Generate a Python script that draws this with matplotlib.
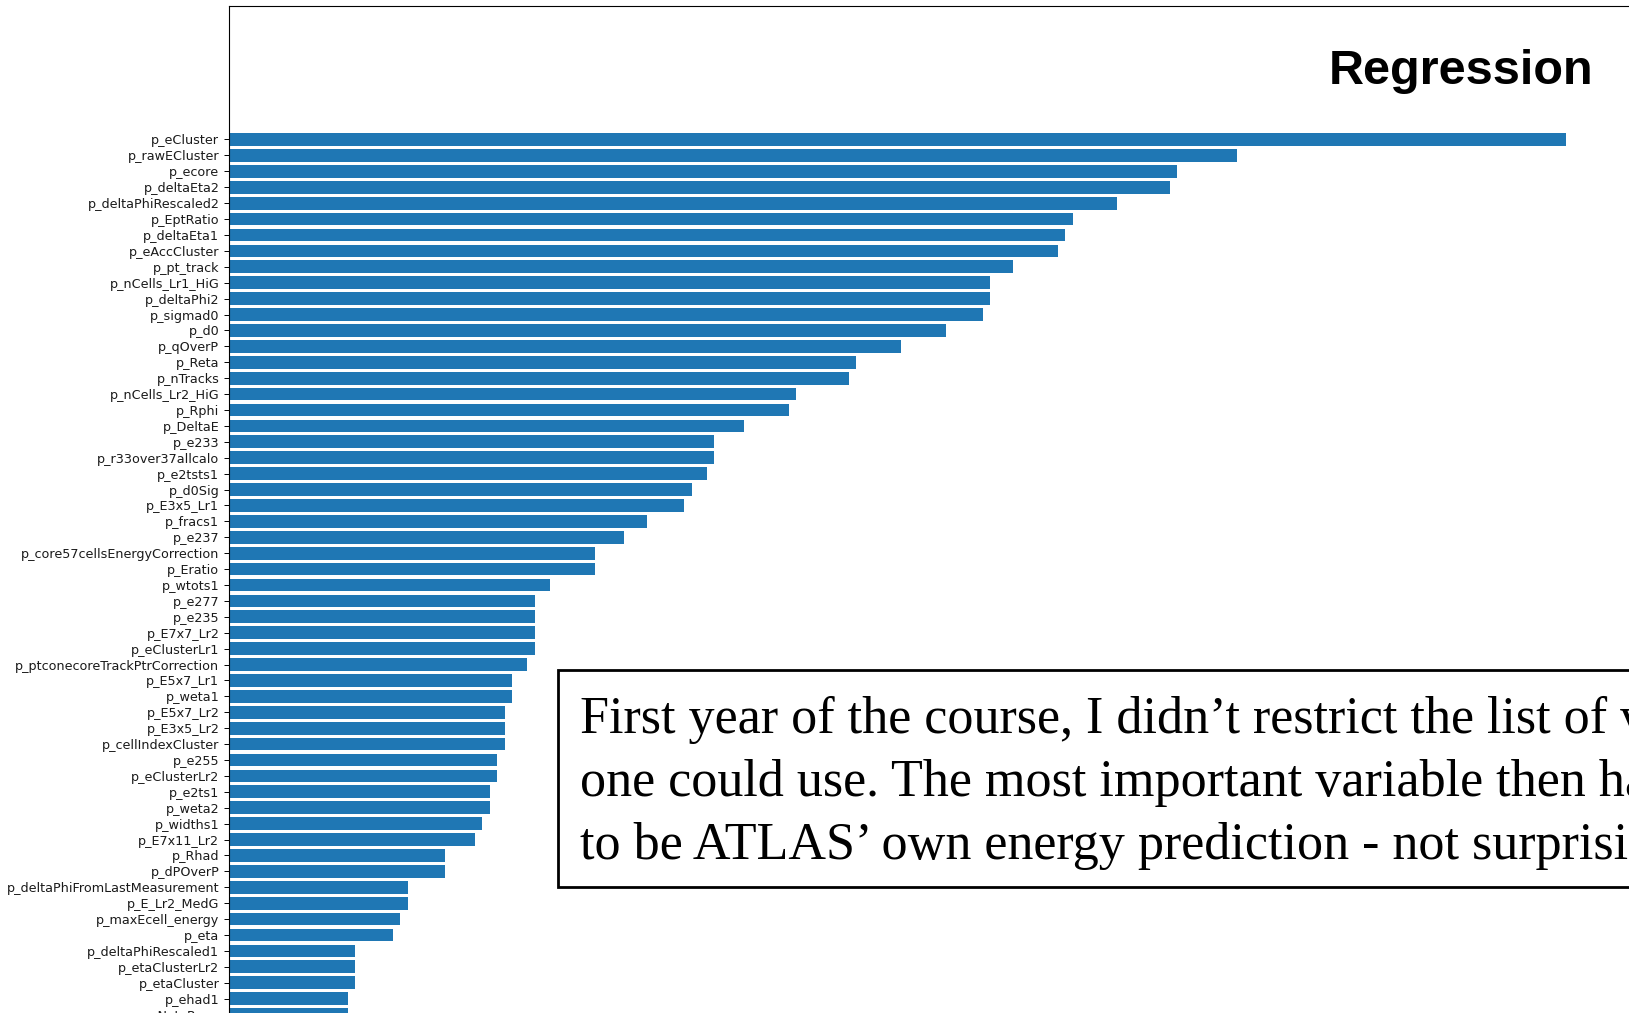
#!/usr/bin/env python3
"""
Feature importance of the regression model (energy), drawn as a horizontal
bar chart with the slide title and a note box on top.
"""

import matplotlib
matplotlib.use('Agg')
import matplotlib.pyplot as plt
from matplotlib.patches import Rectangle

# Feature names, most important first
features = [
    'p_eCluster', 'p_rawECluster', 'p_ecore', 'p_deltaEta2', 'p_deltaPhiRescaled2',
    'p_EptRatio', 'p_deltaEta1', 'p_eAccCluster', 'p_pt_track', 'p_nCells_Lr1_HiG',
    'p_deltaPhi2', 'p_sigmad0', 'p_d0', 'p_qOverP', 'p_Reta',
    'p_nTracks', 'p_nCells_Lr2_HiG', 'p_Rphi', 'p_DeltaE', 'p_e233',
    'p_r33over37allcalo', 'p_e2tsts1', 'p_d0Sig', 'p_E3x5_Lr1', 'p_fracs1',
    'p_e237', 'p_core57cellsEnergyCorrection', 'p_Eratio', 'p_wtots1', 'p_e277',
    'p_e235', 'p_E7x7_Lr2', 'p_eClusterLr1', 'p_ptconecoreTrackPtrCorrection', 'p_E5x7_Lr1',
    'p_weta1', 'p_E5x7_Lr2', 'p_E3x5_Lr2', 'p_cellIndexCluster', 'p_e255',
    'p_eClusterLr2', 'p_e2ts1', 'p_weta2', 'p_widths1', 'p_E7x11_Lr2',
    'p_Rhad', 'p_dPOverP', 'p_deltaPhiFromLastMeasurement', 'p_E_Lr2_MedG', 'p_maxEcell_energy',
    'p_eta', 'p_deltaPhiRescaled1', 'p_etaClusterLr2', 'p_etaCluster', 'p_ehad1',
    'p_NvtxReco',
]

# Importance (number of splits) per feature
importance = [
    179, 135, 127, 126, 119,
    113, 112, 111, 105, 102,
    102, 101, 96, 90, 84,
    83, 76, 75, 69, 65,
    65, 64, 62, 61, 56,
    53, 49, 49, 43, 41,
    41, 41, 41, 40, 38,
    38, 37, 37, 37, 36,
    36, 35, 35, 34, 33,
    29, 29, 24, 24, 23,
    22, 17, 17, 17, 16,
    16,
]

title = 'Regression'
note_lines = [
    'First year of the course, I didn\u2019t restrict the list of variables',
    'one could use. The most important variable then happened',
    'to be ATLAS\u2019 own energy prediction - not surprisingly.',
]

W, H = 1629, 1013


def px(x, y):
    """Pixel position (from top-left) to figure fraction."""
    return x / W, 1 - y / H


def main():
    fig = plt.figure(figsize=(W / 100, H / 100), dpi=100)

    # axes runs past the right and bottom edge of the page
    left, top = 228.5, 6.5
    width, height = 1404.0, 1046.5
    ax = fig.add_axes([left / W, 1 - (top + height) / H, width / W, height / H])

    ypos = list(range(len(features)))
    ax.barh(ypos, importance, height=0.8, color='#1f77b4')
    ax.set_yticks(ypos)
    ax.set_yticklabels(features, fontsize=9.2, color='#1a1a1a')

    row_px = 15.91
    y_top = -(139.5 - top) / row_px
    ax.set_ylim(y_top + height / row_px, y_top)
    ax.set_xlim(0, max(importance) * 1.05)

    ax.tick_params(axis='y', length=3.3, width=0.7, pad=3.3)
    for s in ax.spines.values():
        s.set_linewidth(0.8)

    # slide title
    x, y = px(1329, 84)
    fig.text(x, y, title, fontsize=35, fontweight='bold',
             family='Liberation Sans', va='baseline', ha='left')

    # note box
    bx, by = px(558, 887)
    box = Rectangle((bx, by), 1.2, (887 - 670) / H, transform=fig.transFigure,
                    facecolor='white', edgecolor='black', linewidth=2, zorder=5)
    fig.add_artist(box)
    for i, line in enumerate(note_lines):
        x, y = px(580, 732.7 + i * 63.3)
        fig.text(x, y, line, fontsize=37.5, family='Liberation Serif',
                 va='baseline', ha='left', zorder=6)

    fig.savefig('out.png', dpi=100)


if __name__ == '__main__':
    main()
